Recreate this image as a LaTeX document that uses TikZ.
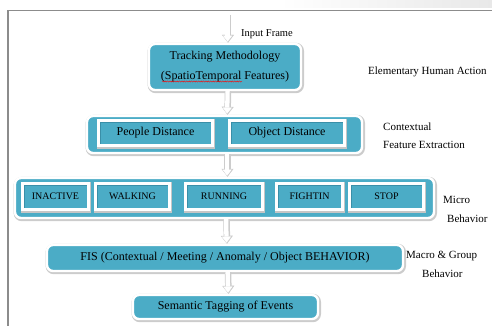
\documentclass[tikz,border=0pt]{standalone}
\usepackage{fontspec}
\setmainfont{Liberation Serif}
\usetikzlibrary{arrows.meta,decorations.pathmorphing}
\definecolor{boxteal}{HTML}{4BACC6}
\definecolor{boxedge}{HTML}{3A8FA8}
\definecolor{framegray}{HTML}{8C8C8C}

\begin{document}
\begin{tikzpicture}[x=1pt,y=-1pt,
  % rounded teal panel with white rim and soft grey shadow
  panel/.style={rounded corners=6pt, fill=boxteal, draw=white, line width=2.4pt,
    inner sep=0pt, align=center, font=\fontsize{12}{20}\selectfont,
    preaction={draw=gray!40, line width=4.4pt,
      transform canvas={shift={(0.8pt,-1pt)}}}},
  % square teal cell inside a panel, with an inner shade along its top and left
  cell/.style={fill=boxteal, draw=white, line width=3pt, inner sep=0pt,
    preaction={draw=gray!45, line width=4.6pt,
      transform canvas={shift={(0.6pt,-0.8pt)}}},
    path picture={\draw[boxedge, line width=5pt]
      (path picture bounding box.south west) -- (path picture bounding box.north west)
      -- (path picture bounding box.north east);}},
  celltext/.style={font=\fontsize{12}{14}\selectfont},
  captext/.style={font=\fontsize{10}{12}\selectfont},
  side/.style={anchor=west, inner sep=0pt, font=\fontsize{11}{13}\selectfont},
  % white block arrow with grey outline
  flow/.style={line width=6.5pt, draw=gray!40,
    -{Triangle[length=8pt,width=12pt,line width=0.4pt]},
    postaction={draw=white, line width=4.3pt,
      -{Triangle[length=6pt,width=9pt,line width=0.4pt]}, shorten >=1.2pt,
      transform canvas={shift={(-0.4pt,0pt)}}}}
]
\useasboundingbox (0,0) rectangle (492,326);

% faint grey strip along the top edge
\fill[left color=white, right color=gray!18] (280,0) rectangle (492,8);

% page frame
\draw[framegray, line width=1.5pt] (492,10.5) -- (8,10.5) -- (8,326);

% input arrow start
\coordinate (in) at (228,15);

% panels
\node[panel, minimum width=152pt, minimum height=46pt] (track) at (225,67)
  {Tracking Methodology\\(SpatioTemporal Features)};
\node[panel, minimum width=275pt, minimum height=37pt] (ctx) at (224.5,134.5) {};
\node[panel, minimum width=419pt, minimum height=40pt] (micro) at (224.5,198) {};
\node[panel, minimum width=356pt, minimum height=26pt] (fis) at (225,258)
  {FIS (Contextual / Meeting / Anomaly / Object BEHAVIOR)};
\node[panel, minimum width=185pt, minimum height=24pt] (sem) at (225.5,307)
  {Semantic Tagging of Events};

% contextual feature cells
\node[cell, celltext, minimum width=114pt, minimum height=25pt] (people) at (155.5,133) {People Distance};
\node[cell, celltext, minimum width=115pt, minimum height=25pt] (object) at (287,133) {Object Distance};

% micro behaviour cells
\node[cell, captext, minimum width=66pt, minimum height=26pt] (inactive) at (55.5,196.5) {INACTIVE};
\node[cell, captext, minimum width=74pt, minimum height=26pt] (walking) at (132.5,196.5) {WALKING};
\node[cell, captext, minimum width=77pt, minimum height=26pt] (running) at (224,196.5) {RUNNING};
\node[cell, captext, minimum width=66pt, minimum height=26pt] (fightin) at (309.5,196.5) {FIGHTIN};
\node[cell, captext, minimum width=74pt, minimum height=26pt] (stop) at (386.5,196.5) {STOP};

% spell-check squiggle
\draw[red, line width=0.4pt, decorate,
  decoration={snake, amplitude=0.6pt, segment length=2.4pt}] (162,81.5) -- (242,81.5);

% connectors
\draw[flow] (in) -- ([xshift=3pt]track.north);
\draw[flow] ([xshift=3pt]track.south) -- ([xshift=3pt]ctx.north);
\draw[flow] ([xshift=3pt]ctx.south) -- ([xshift=3pt]micro.north);
\draw[flow] ([xshift=2pt]micro.south) -- ([xshift=2pt]fis.north);
\draw[flow] ([xshift=3pt]fis.south) -- ([xshift=3pt]sem.north);

% side labels
\node[side, font=\fontsize{10.5}{12}\selectfont] (lin) at (241,34) {Input Frame};
\node[side] (lelem) at (368,72) {Elementary Human Action};
\node[side] (lctx1) at (383,127) {Contextual};
\node[side] (lctx2) at (383,145) {Feature Extraction};
\node[side] (lmic1) at (443,200) {Micro};
\node[side] (lmic2) at (447,219) {Behavior};
\node[side] (lmac1) at (406,256) {Macro \& Group};
\node[side] (lmac2) at (422,274) {Behavior};
\end{tikzpicture}
\end{document}
